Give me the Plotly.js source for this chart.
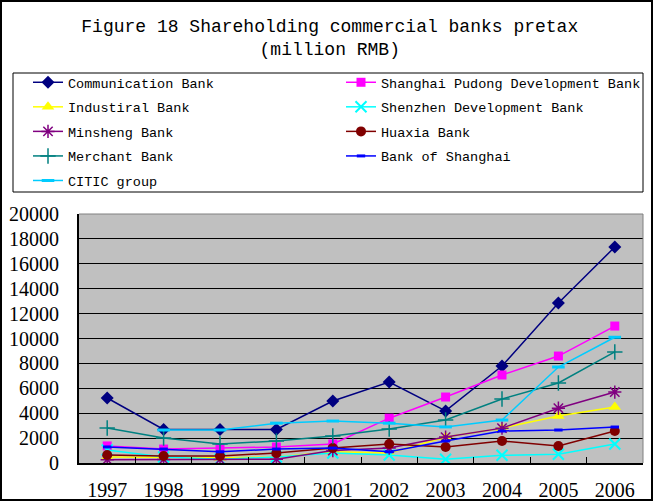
<!DOCTYPE html>
<html><head><meta charset="utf-8">
<script src="https://cdn.plot.ly/plotly-3.0.1.min.js"></script>
<style>
html,body{margin:0;padding:0;background:#fff;}
#wrap{position:relative;width:653px;height:501px;}
#chart{width:653px;height:501px;}
#frame{position:absolute;left:0;top:0;width:653px;height:501px;box-sizing:border-box;border:2px solid #000;pointer-events:none;}
</style></head>
<body>
<div id="wrap"><div id="chart"></div><div id="frame"></div></div>
<script>
const years = ['1997','1998','1999','2000','2001','2002','2003','2004','2005','2006'];
const communication = [5220, 2700, 2700, 2700, 4980, 6500, 4180, 7790, 12850, 17350];
const shanghaiPudong = [1370, 1120, 1200, 1290, 1530, 3600, 5300, 7070, 8590, 11000];
const industrial = [480, 450, 420, 480, 900, 800, 2090, 2800, 3780, 4500];
const shenzhen = [1040, 480, 300, 480, 800, 640, 300, 620, 700, 1530];
const minsheng = [270, 280, 280, 300, 1000, 1200, 2080, 2800, 4400, 5700];
const huaxia = [640, 560, 560, 800, 1200, 1530, 1290, 1770, 1370, 2570];
const merchant = [2810, 2010, 1530, 1770, 2170, 2730, 3450, 5140, 6430, 8920];
const bankOfShanghai = [1290, 1120, 900, 1120, 1200, 900, 1770, 2570, 2650, 2890];
const citic = [null, 2650, 2650, 3200, 3370, 3200, 2900, 3450, 7710, 10100];
const yTicks = [0, 2000, 4000, 6000, 8000, 10000, 12000, 14000, 16000, 18000, 20000];

// plot area in pixels
const PL = 79, PR = 643, PT = 214, PB = 463;
const px2x = p => (p - PL) / (PR - PL);
const px2y = p => (PB - p) / (PB - PT);

function tr(name, y, color, symbol, size, mlw, leg){
  return {type:'scatter', mode:'lines+markers', name:name, x:years, y:y,
    legend:leg, legendgroup:name,
    line:{color:color, width:1.5},
    marker:{color:color, symbol:symbol, size:size, line:{color:color, width:mlw||0}}};
}
const data = [
  tr('Communication Bank', communication, '#000080', 'diamond', 10, 0, 'legend'),
  tr('Shanghai Pudong Development Bank', shanghaiPudong, '#FF00FF', 'square', 9, 0, 'legend2'),
  tr('Industiral Bank', industrial, '#FFFF00', 'triangle-up', 11, 0, 'legend'),
  tr('Shenzhen Development Bank', shenzhen, '#00FFFF', 'x-thin-open', 11, 2, 'legend2'),
  tr('Minsheng Bank', minsheng, '#800080', 'asterisk-open', 11, 1.5, 'legend'),
  tr('Huaxia Bank', huaxia, '#800000', 'circle', 10, 0, 'legend2'),
  tr('Merchant Bank', merchant, '#008080', 'cross-thin-open', 11, 1.5, 'legend'),
  tr('Bank of Shanghai', bankOfShanghai, '#0000FF', 'line-ew-open', 6, 3, 'legend2'),
  tr('CITIC group', citic, '#00CCFF', 'line-ew-open', 9, 3, 'legend')
];
const legFont = {family:'Liberation Mono, monospace', size:13.5, color:'#000'};
const legCommon = {orientation:'v', xref:'container', yref:'container', xanchor:'left', yanchor:'top',
  bgcolor:'rgba(0,0,0,0)', borderwidth:0, font:legFont, tracegroupgap:4, traceorder:'grouped'};
const layout = {
  width:653, height:501,
  margin:{l:PL, r:653-PR, t:PT, b:501-PB, autoexpand:false},
  paper_bgcolor:'#FFFFFF', plot_bgcolor:'#C0C0C0',
  title:{text:'Figure 18 Shareholding commercial banks pretax<br>(million RMB)',
    font:{family:'Liberation Mono, monospace', size:18, color:'#000'},
    x:0.505, xanchor:'center', y:1-32/501, yanchor:'top'},
  showlegend:true,
  legend:Object.assign({}, legCommon, {x:28/653, y:1-67/501}),
  legend2:Object.assign({}, legCommon, {x:341/653, y:1-67/501}),
  xaxis:{type:'category', showgrid:false, showline:true, linecolor:'#000', linewidth:2,
    ticks:'inside', tickson:'boundaries', ticklen:6, tickcolor:'#000', ticklabelstandoff:8,
    tickfont:{family:'Liberation Serif, serif', size:20, color:'#000'},
    range:[-0.5, 9.5]},
  yaxis:{range:[0,20000], tickvals:yTicks, ticktext:yTicks.map(String),
    showgrid:true, gridcolor:'#000', gridwidth:1, showline:true, linecolor:'#000', linewidth:2,
    ticks:'', zeroline:false, ticklabelstandoff:14,
    tickfont:{family:'Liberation Serif, serif', size:20, color:'#000'}},
  shapes:[
    {type:'line', xref:'paper', yref:'paper', x0:0, x1:1, y0:1, y1:1, line:{color:'#808080', width:1}},
    {type:'line', xref:'paper', yref:'paper', x0:1, x1:1, y0:0, y1:1, line:{color:'#808080', width:1}},
    {type:'rect', xref:'paper', yref:'paper', x0:px2x(13), x1:px2x(643), y0:px2y(192), y1:px2y(73),
      line:{color:'#000', width:1}, fillcolor:'rgba(0,0,0,0)'}
  ]
};
Plotly.newPlot('chart', data, layout, {displayModeBar:false, staticPlot:true});
</script>
</body></html>
